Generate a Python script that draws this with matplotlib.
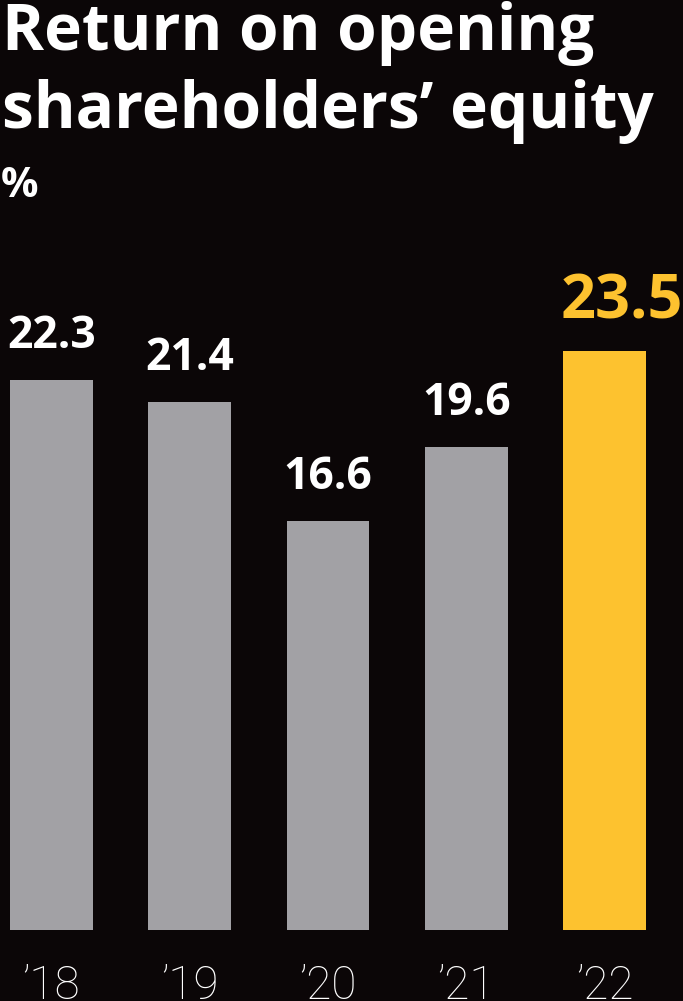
import matplotlib
matplotlib.use("Agg")
import matplotlib.pyplot as plt
from matplotlib.transforms import blended_transform_factory

years = ["\u201918", "\u201919", "\u201920", "\u201921", "\u201922"]
values = [22.3, 21.4, 16.6, 19.6, 23.5]
labels = ["22.3", "21.4", "16.6", "19.6", "23.5"]

bg = "#0b0607"
gray = "#a2a1a5"
yellow = "#fdc22f"
colors = [gray, gray, gray, gray, yellow]

W, H = 683, 1001
fig = plt.figure(figsize=(W / 100, H / 100), dpi=100, facecolor=bg)
head_font = ["Open Sans", "DejaVu Sans"]
num_font = ["Open Sans", "DejaVu Sans"]

# axes: baseline at y=930px, top of tallest bar at ~350px
ax = fig.add_axes([0, 1 - 930 / H, 1, (930 - 350.5) / H])
ax.set_facecolor(bg)
x = list(range(len(values)))
bw = 0.6
ax.bar(x, values, width=bw, color=colors)
ax.set_xlim(-51.5 / 138.25, 4 + 78.5 / 138.25)
ax.set_ylim(0, 23.5)
ax.axis("off")

tr = blended_transform_factory(ax.transData, fig.transFigure)
for i, v in enumerate(values):
    if i == len(values) - 1:
        # highlighted year: bigger, yellow, starts at bar's left edge
        ax.annotate(labels[i], (i - bw / 2, v), xytext=(-2, 23),
                    textcoords="offset points", ha="left", va="baseline",
                    color=yellow, fontweight="bold", fontsize=44,
                    family=num_font, annotation_clip=False)
    else:
        ax.annotate(labels[i], (i, v), xytext=(0, 23),
                    textcoords="offset points", ha="center", va="baseline",
                    color="white", fontweight="bold", fontsize=32,
                    family=num_font, annotation_clip=False)
    ax.text(i, 1 - 999 / H, years[i], transform=tr,
            ha="center", va="baseline", color="white", fontsize=33,
            family=["Roboto", "DejaVu Sans"], fontweight="light")

fig.text(0.003, 1 - 50 / H, "Return on opening", color="white", fontsize=46,
         fontweight="bold", family=head_font, va="baseline", ha="left")
fig.text(0.003, 1 - 128 / H, "shareholders\u2019 equity", color="white", fontsize=46,
         fontweight="bold", family=head_font, va="baseline", ha="left")
fig.text(0.001, 1 - 197 / H, "%", color="white", fontsize=30,
         fontweight="bold", family=head_font, va="baseline", ha="left")

fig.savefig("out.png", dpi=100, facecolor=bg)
